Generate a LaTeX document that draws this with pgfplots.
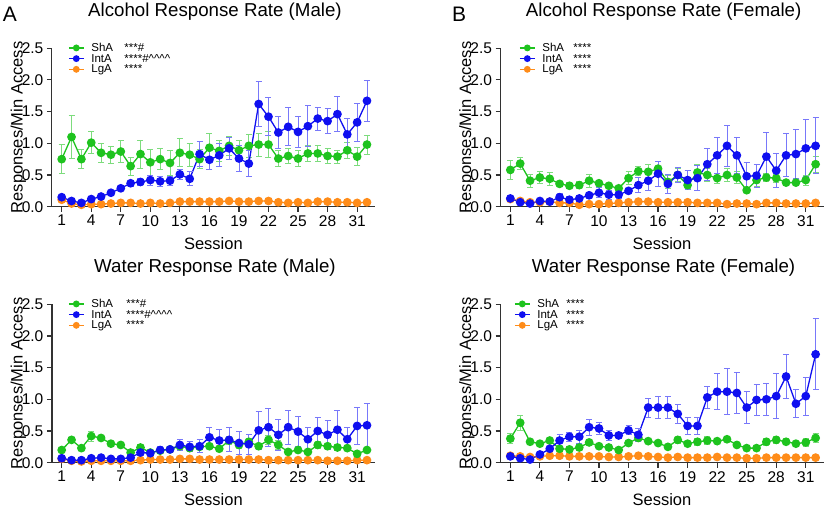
\documentclass[border=0pt]{standalone}
\usepackage{pgfplots}
\pgfplotsset{compat=1.18}
\usepackage{pgfplotstable}
\usepackage{fontspec}
\setmainfont{Liberation Sans}

\definecolor{cG}{RGB}{30,195,30}
\definecolor{eG}{RGB}{125,220,125}
\definecolor{cB}{RGB}{15,15,240}
\definecolor{eB}{RGB}{120,120,250}
\definecolor{cO}{RGB}{255,140,25}
\definecolor{eO}{RGB}{255,185,120}
\definecolor{axc}{RGB}{50,50,50}

% columns: session, ShA, sem, IntA, sem, LgA, sem
\pgfplotstableread{
x s se i ie l le
1 0.75 0.23 0.15 0.03 0.11 0.01
2 1.10 0.34 0.09 0.02 0.05 0.01
3 0.75 0.15 0.06 0.02 0.03 0.01
4 1.01 0.17 0.12 0.02 0.04 0.01
5 0.85 0.15 0.16 0.02 0.04 0.01
6 0.82 0.13 0.22 0.03 0.05 0.01
7 0.87 0.17 0.29 0.04 0.06 0.01
8 0.64 0.14 0.37 0.05 0.06 0.01
9 0.83 0.22 0.39 0.05 0.05 0.01
10 0.70 0.20 0.42 0.08 0.06 0.01
11 0.75 0.17 0.40 0.08 0.05 0.01
12 0.69 0.20 0.41 0.07 0.06 0.01
13 0.85 0.22 0.51 0.08 0.08 0.01
14 0.82 0.18 0.44 0.11 0.08 0.01
15 0.75 0.15 0.83 0.20 0.08 0.01
16 0.93 0.22 0.74 0.15 0.08 0.01
17 0.88 0.17 0.81 0.18 0.08 0.01
18 0.96 0.15 0.92 0.18 0.09 0.01
19 0.89 0.15 0.76 0.20 0.08 0.01
20 0.96 0.18 0.68 0.20 0.08 0.01
21 0.98 0.18 1.62 0.36 0.09 0.01
22 0.98 0.20 1.42 0.30 0.09 0.01
23 0.76 0.12 1.17 0.25 0.07 0.01
24 0.80 0.12 1.26 0.30 0.06 0.01
25 0.76 0.13 1.18 0.25 0.07 0.01
26 0.84 0.13 1.27 0.32 0.06 0.01
27 0.84 0.13 1.39 0.18 0.08 0.01
28 0.80 0.12 1.35 0.20 0.08 0.01
29 0.79 0.10 1.46 0.28 0.07 0.01
30 0.89 0.13 1.14 0.25 0.07 0.01
31 0.79 0.14 1.33 0.30 0.06 0.01
32 0.98 0.15 1.67 0.32 0.07 0.01
}\tabA

\pgfplotstableread{
x s se i ie l le
1 0.58 0.15 0.13 0.02 0.12 0.01
2 0.68 0.10 0.07 0.02 0.09 0.01
3 0.41 0.10 0.05 0.02 0.07 0.01
4 0.46 0.10 0.09 0.02 0.07 0.01
5 0.44 0.10 0.08 0.02 0.08 0.01
6 0.36 0.03 0.15 0.06 0.06 0.01
7 0.33 0.05 0.11 0.05 0.06 0.01
8 0.34 0.06 0.13 0.05 0.03 0.01
9 0.41 0.10 0.18 0.05 0.04 0.01
10 0.37 0.05 0.22 0.08 0.04 0.01
11 0.33 0.04 0.19 0.07 0.05 0.01
12 0.29 0.04 0.19 0.06 0.06 0.01
13 0.45 0.10 0.25 0.04 0.07 0.01
14 0.56 0.07 0.34 0.12 0.08 0.01
15 0.55 0.12 0.41 0.15 0.08 0.01
16 0.60 0.12 0.52 0.20 0.07 0.01
17 0.39 0.10 0.36 0.15 0.07 0.01
18 0.50 0.10 0.50 0.12 0.07 0.01
19 0.34 0.05 0.42 0.15 0.07 0.01
20 0.54 0.12 0.45 0.20 0.06 0.01
21 0.50 0.10 0.67 0.25 0.06 0.01
22 0.45 0.08 0.81 0.28 0.06 0.01
23 0.50 0.10 0.96 0.32 0.04 0.01
24 0.46 0.10 0.81 0.28 0.05 0.01
25 0.26 0.04 0.48 0.22 0.05 0.01
26 0.42 0.10 0.49 0.18 0.04 0.01
27 0.46 0.06 0.79 0.38 0.06 0.01
28 0.45 0.06 0.57 0.27 0.06 0.01
29 0.38 0.04 0.81 0.34 0.05 0.01
30 0.38 0.03 0.83 0.39 0.05 0.01
31 0.42 0.08 0.92 0.45 0.05 0.01
32 0.67 0.13 0.96 0.44 0.06 0.01
}\tabB

\pgfplotstableread{
x s se i ie l le
1 0.20 0.04 0.07 0.02 0.06 0.01
2 0.36 0.03 0.04 0.01 0.03 0.01
3 0.23 0.03 0.04 0.01 0.02 0.01
4 0.42 0.08 0.07 0.02 0.03 0.01
5 0.39 0.03 0.08 0.03 0.03 0.01
6 0.30 0.03 0.06 0.02 0.03 0.01
7 0.28 0.04 0.06 0.02 0.03 0.01
8 0.16 0.03 0.08 0.02 0.03 0.01
9 0.24 0.04 0.16 0.05 0.04 0.01
10 0.16 0.04 0.15 0.04 0.05 0.01
11 0.19 0.04 0.20 0.06 0.05 0.01
12 0.21 0.04 0.21 0.05 0.05 0.01
13 0.26 0.05 0.28 0.08 0.06 0.01
14 0.23 0.05 0.25 0.08 0.06 0.01
15 0.25 0.04 0.26 0.10 0.05 0.01
16 0.26 0.04 0.40 0.15 0.05 0.01
17 0.22 0.04 0.35 0.17 0.05 0.01
18 0.35 0.06 0.36 0.19 0.05 0.01
19 0.28 0.05 0.31 0.18 0.05 0.01
20 0.33 0.06 0.29 0.16 0.05 0.01
21 0.26 0.05 0.51 0.30 0.05 0.01
22 0.36 0.07 0.56 0.30 0.04 0.01
23 0.28 0.07 0.44 0.24 0.04 0.01
24 0.17 0.03 0.56 0.27 0.04 0.01
25 0.20 0.04 0.49 0.24 0.04 0.01
26 0.17 0.03 0.37 0.18 0.04 0.01
27 0.28 0.05 0.50 0.21 0.04 0.01
28 0.26 0.04 0.44 0.23 0.03 0.01
29 0.24 0.04 0.52 0.30 0.03 0.01
30 0.23 0.04 0.37 0.18 0.03 0.01
31 0.14 0.03 0.58 0.29 0.04 0.01
32 0.20 0.04 0.59 0.35 0.04 0.01
}\tabC

\pgfplotstableread{
x s se i ie l le
1 0.38 0.08 0.10 0.02 0.11 0.01
2 0.63 0.12 0.07 0.02 0.10 0.01
3 0.33 0.04 0.05 0.02 0.09 0.01
4 0.30 0.04 0.13 0.03 0.10 0.01
5 0.35 0.04 0.22 0.03 0.11 0.01
6 0.22 0.04 0.35 0.10 0.11 0.01
7 0.21 0.04 0.41 0.07 0.10 0.01
8 0.24 0.05 0.41 0.10 0.10 0.01
9 0.32 0.05 0.56 0.13 0.10 0.01
10 0.26 0.04 0.54 0.10 0.10 0.01
11 0.24 0.04 0.43 0.08 0.09 0.01
12 0.20 0.03 0.43 0.04 0.09 0.01
13 0.31 0.04 0.51 0.07 0.10 0.01
14 0.39 0.05 0.44 0.10 0.11 0.01
15 0.34 0.04 0.87 0.15 0.10 0.01
16 0.31 0.03 0.87 0.17 0.09 0.01
17 0.25 0.04 0.87 0.17 0.08 0.01
18 0.36 0.05 0.77 0.15 0.09 0.01
19 0.30 0.03 0.58 0.14 0.08 0.01
20 0.33 0.06 0.58 0.14 0.08 0.01
21 0.35 0.06 1.03 0.17 0.08 0.01
22 0.34 0.03 1.12 0.28 0.09 0.01
23 0.37 0.04 1.12 0.36 0.08 0.01
24 0.28 0.04 1.10 0.32 0.08 0.01
25 0.23 0.04 0.87 0.25 0.07 0.01
26 0.23 0.04 0.99 0.25 0.07 0.01
27 0.33 0.06 1.00 0.25 0.08 0.01
28 0.36 0.06 1.05 0.35 0.08 0.01
29 0.33 0.05 1.36 0.35 0.08 0.01
30 0.30 0.04 0.93 0.22 0.08 0.01
31 0.32 0.06 1.05 0.30 0.08 0.01
32 0.39 0.07 1.71 0.56 0.08 0.01
}\tabD

\pgfplotsset{
  panel/.style={
    scale only axis, width=323pt, height=158.5pt,
    xmin=0, xmax=32.8, ymin=0, ymax=2.5,
    axis x line*=bottom, axis y line*=left,
    axis line style={axc, line width=1.3pt},
    xtick={1,4,...,31}, ytick={0,0.5,...,2.5},
    tick align=outside, major tick length=5pt,
    tick style={axc, line width=1.2pt},
    tick label style={font=\fontsize{15.5}{17}\selectfont},
    /pgf/number format/assume math mode=true,
    yticklabel style={/pgf/number format/.cd, fixed, fixed zerofill, precision=1},
    clip=false,
    xlabel={Session}, ylabel={Responses/Min Access},
    label style={font=\fontsize{16.5}{18}\selectfont},
    xlabel style={at={(axis description cs:0.5,-0.23)}, anchor=center},
    ylabel style={at={(axis description cs:-0.104,0.5)}, anchor=center},
    title style={font=\fontsize{18.7}{21}\selectfont, at={(axis description cs:0.505,1.19)}, anchor=center},
    legend cell align=left,
    legend style={draw=none, fill=none, inner sep=0pt, row sep=1.5pt, column sep=7pt,
      font=\fontsize{11.5}{13}\selectfont,
      nodes={inner sep=0pt, text height=8.2pt, text depth=1pt}},
    legend image code/.code={\draw[mark repeat=2, mark phase=2, #1]
      plot coordinates {(0pt,0pt) (7.5pt,0pt) (15pt,0pt)};},
  },
  ser/.style 2 args={color=#1, line width=1.3pt, mark=*, mark size=3.7pt,
    mark options={solid, fill=#1},
    error bars/.cd, y dir=both, y explicit,
    error bar style={color=#2, line width=0.9pt},
    error mark options={rotate=90, mark size=3pt, line width=0.9pt, color=#2}},
  leg/.style={color=#1, line width=1.2pt, mark=*, mark size=2.8pt, mark options={solid, fill=#1}},
}

\newcommand{\series}[1]{%
  \addplot[forget plot, ser={cO}{eO}] table[x=x, y=l, y error=le] {#1};
  \addplot[forget plot, ser={cG}{eG}] table[x=x, y=s, y error=se] {#1};
  \addplot[forget plot, ser={cB}{eB}] table[x=x, y=i, y error=ie] {#1};
}

\begin{document}
\begin{tikzpicture}
\path[use as bounding box] (0,0) rectangle (825pt,509pt);

% A: alcohol, male
\begin{axis}[panel, at={(51.85pt,302.3pt)}, title={Alcohol Response Rate (Male)},
  legend style={at={(axis cs:1.64,2.58)}, anchor=north west}]
\addlegendimage{leg=cG}\addlegendentry{\makebox[33pt][l]{ShA}***\#}
\addlegendimage{leg=cB}\addlegendentry{\makebox[33pt][l]{IntA}****\#\textasciicircum\textasciicircum\textasciicircum\textasciicircum}
\addlegendimage{leg=cO}\addlegendentry{\makebox[33pt][l]{LgA}****}
\series{\tabA}
\node[font=\fontsize{21}{23}\selectfont] at (axis description cs:-0.13,1.214) {A};
\end{axis}

% B: alcohol, female
\begin{axis}[panel, at={(500.5pt,302.3pt)}, title={Alcohol Response Rate (Female)},
  legend style={at={(axis cs:1.88,2.58)}, anchor=north west}]
\addlegendimage{leg=cG}\addlegendentry{\makebox[31pt][l]{ShA}****}
\addlegendimage{leg=cB}\addlegendentry{\makebox[31pt][l]{IntA}****}
\addlegendimage{leg=cO}\addlegendentry{\makebox[31pt][l]{LgA}****}
\series{\tabB}
\node[font=\fontsize{21}{23}\selectfont] at (axis description cs:-0.128,1.214) {B};
\end{axis}

% C: water, male
\begin{axis}[panel, at={(51.85pt,46.3pt)}, title={Water Response Rate (Male)},
  legend style={at={(axis cs:1.64,2.58)}, anchor=north west}]
\addlegendimage{leg=cG}\addlegendentry{\makebox[35pt][l]{ShA}***\#}
\addlegendimage{leg=cB}\addlegendentry{\makebox[35pt][l]{IntA}****\#\textasciicircum\textasciicircum\textasciicircum\textasciicircum}
\addlegendimage{leg=cO}\addlegendentry{\makebox[35pt][l]{LgA}****}
\series{\tabC}
\end{axis}

% D: water, female
\begin{axis}[panel, at={(500.5pt,46.3pt)}, title={Water Response Rate (Female)},
  legend style={at={(axis cs:1.37,2.58)}, anchor=north west}]
\addlegendimage{leg=cG}\addlegendentry{\makebox[29pt][l]{ShA}****}
\addlegendimage{leg=cB}\addlegendentry{\makebox[29pt][l]{IntA}****}
\addlegendimage{leg=cO}\addlegendentry{\makebox[29pt][l]{LgA}****}
\series{\tabD}
\end{axis}
\end{tikzpicture}
\end{document}
